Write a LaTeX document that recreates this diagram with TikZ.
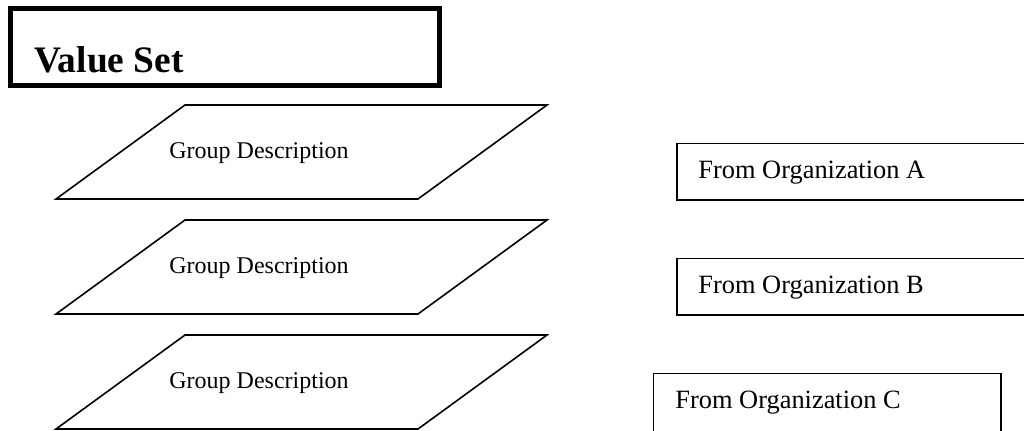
\documentclass[tikz,border=0pt]{standalone}
\usepackage{fontspec}
\setmainfont{Liberation Serif}
\tikzset{
  titlebox/.style={draw=black,line width=2.6pt},
  shapeline/.style={draw=black,line width=0.8pt},
  grouptext/.style={font=\fontsize{12}{14}\selectfont,inner sep=0pt,anchor=base west},
  orgtext/.style={font=\fontsize{13.2}{15}\selectfont,inner sep=0pt,anchor=base west},
  titletext/.style={font=\fontsize{18.7}{22}\selectfont\bfseries,inner sep=0pt,anchor=base west}
}
\newcommand{\descrow}[2]{%
  \begin{scope}[shift={(0,#1)}]
    \draw[shapeline] (185,105) -- (547,105) -- (418,199) -- (56,199) -- cycle;
    \node[grouptext] (#2) at (169,158) {Group Description};
  \end{scope}%
}

\begin{document}
\begin{tikzpicture}[x=0.5pt,y=-0.5pt]
  \clip (0,0) rectangle (1024,430);
  \fill[white] (0,0) rectangle (1024,430);

  % heading
  \draw[titlebox] (10.5,8.5) rectangle (439.5,85.5);
  \node[titletext] (title) at (34,72) {Value Set};

  % group descriptions
  \descrow{0}{groupA}
  \descrow{115}{groupB}
  \descrow{230}{groupC}

  % organizations
  \draw[shapeline] (677,143.5) rectangle (1040,200);
  \node[orgtext] (orgA) at (698,178.3) {From Organization A};
  \draw[shapeline] (677,258.5) rectangle (1040,315);
  \node[orgtext] (orgB) at (698,293.3) {From Organization B};
  \draw[shapeline] (653.5,373.5) rectangle (1001,440);
  \node[orgtext] (orgC) at (675,408.3) {From Organization C};
\end{tikzpicture}
\end{document}
